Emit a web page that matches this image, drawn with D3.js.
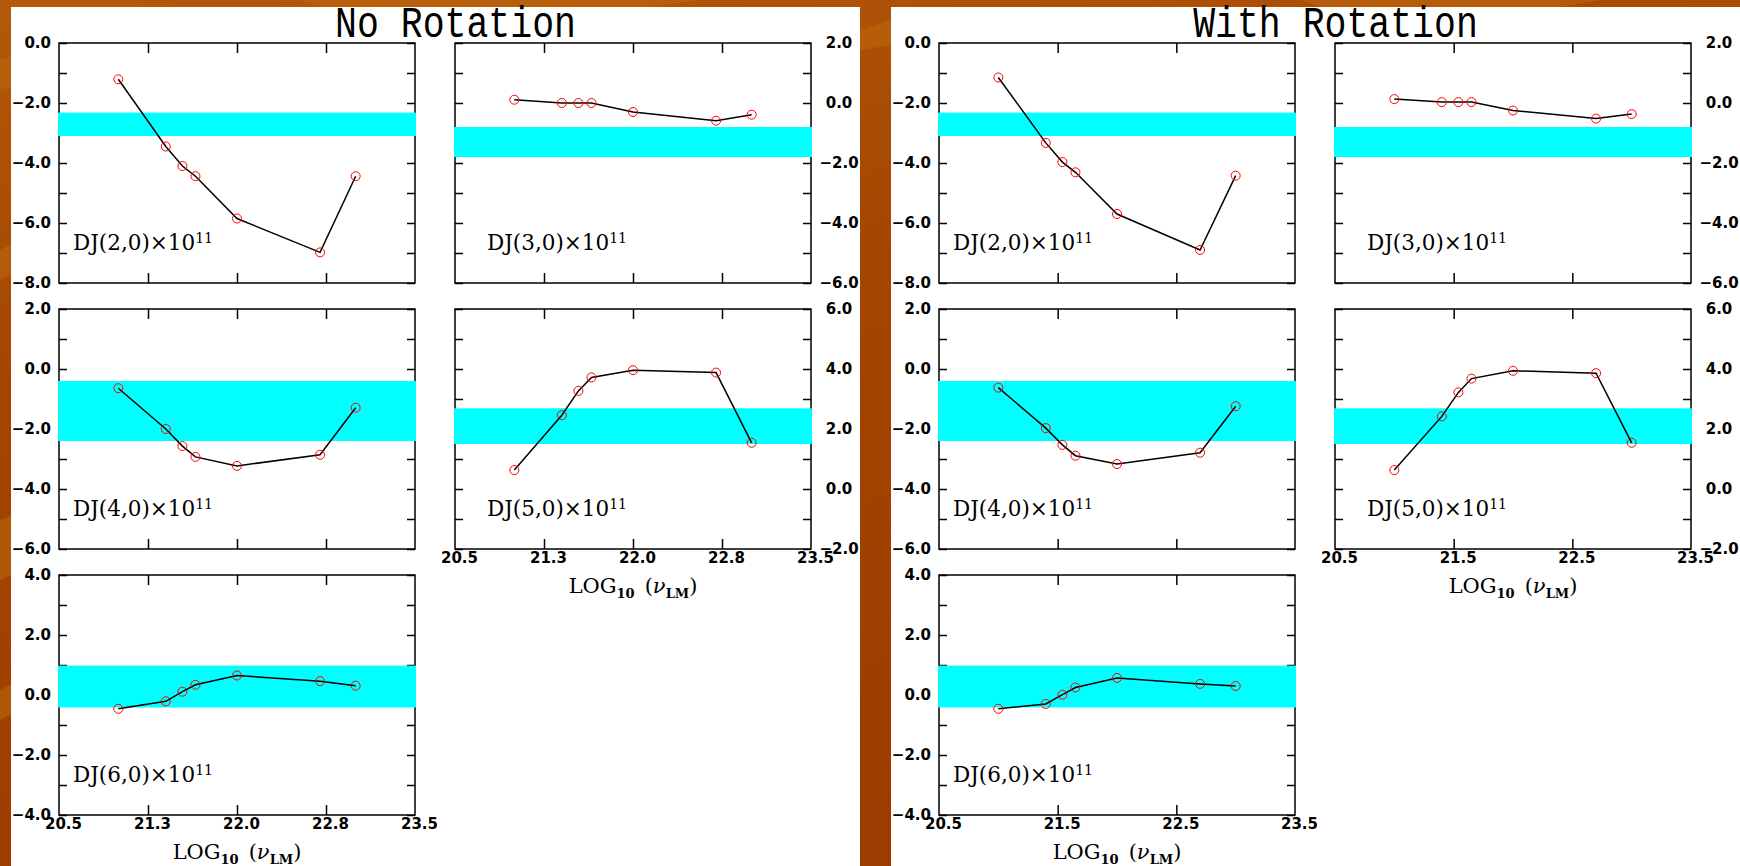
<!DOCTYPE html>
<html>
<head>
<meta charset="utf-8">
<script src="https://cdn.jsdelivr.net/npm/d3@7"></script>
<style>
  body { margin: 0; background: #a44400; }
  svg { display: block; }
</style>
</head>
<body>
<div id="chart"></div>
<script>
// log10(nu_LM), same abscissae in every panel
var nuLog = [21.0, 21.4, 21.54, 21.65, 22.0, 22.7, 23.0];

// DJ(n,0) x 10^11, no rotation
var dj2NoRot = [-1.21, -3.45, -4.10, -4.44, -5.85, -6.98, -4.44];
var dj3NoRot = [0.11, 0.0, 0.0, 0.0, -0.30, -0.59, -0.39];
var dj4NoRot = [-0.64, -2.00, -2.57, -2.93, -3.23, -2.86, -1.29];
var dj5NoRot = [0.63, 2.46, 3.27, 3.72, 3.96, 3.88, 1.54];
var dj6NoRot = [-0.46, -0.21, 0.11, 0.34, 0.65, 0.46, 0.31];

// DJ(n,0) x 10^11, with rotation
var dj2Rot = [-1.15, -3.33, -3.97, -4.31, -5.70, -6.90, -4.42];
var dj3Rot = [0.13, 0.03, 0.03, 0.03, -0.25, -0.52, -0.37];
var dj4Rot = [-0.62, -1.97, -2.53, -2.89, -3.17, -2.79, -1.24];
var dj5Rot = [0.63, 2.42, 3.22, 3.68, 3.94, 3.86, 1.54];
var dj6Rot = [-0.46, -0.30, 0.01, 0.25, 0.57, 0.37, 0.30];

// observed ranges (cyan bands), [low, high]
var band2 = [-3.10, -2.32];
var band3 = [-1.80, -0.80];
var band4 = [-2.40, -0.40];
var band5 = [1.50, 2.69];
var band6 = [-0.415, 0.98];

// y ranges
var yDom2 = [-8, 0];
var yDom3 = [-6, 2];
var yDom4 = [-6, 2];
var yDom5 = [-2, 6];
var yDom6 = [-4, 4];

var xDomain = [20.5, 23.5];
var xTicksNoRot = [21.25, 22.0, 22.75];
var xTicksRot = [21.5, 22.5];
var xLabelValsNoRot = [20.5, 21.25, 22.0, 22.75, 23.5];
var xLabelsNoRot = ["20.5", "21.3", "22.0", "22.8", "23.5"];
var xLabelValsRot = [20.5, 21.5, 22.5, 23.5];
var xLabelsRot = ["20.5", "21.5", "22.5", "23.5"];

var panelTitles = ["No Rotation", "With Rotation"];

var W = 1740, H = 866;
var plotW = 356, plotH = 240;
var colX = [59, 455];
var rowY = [43, 309, 575];
var panelShift = 880;

var svg = d3.select("#chart").append("svg")
    .attr("width", W)
    .attr("height", H);

// background
var defs = svg.append("defs");
var grad = defs.append("linearGradient")
    .attr("id", "bg").attr("x1", 0).attr("y1", 0).attr("x2", 0.3).attr("y2", 1);
grad.append("stop").attr("offset", "0%").attr("stop-color", "#b4580a");
grad.append("stop").attr("offset", "40%").attr("stop-color", "#a44600");
grad.append("stop").attr("offset", "100%").attr("stop-color", "#9c3c00");
svg.append("rect").attr("width", W).attr("height", H).attr("fill", "url(#bg)");

var streaks = [
    "M0,60 L60,40 L60,70 L0,90 Z",
    "M0,250 L40,230 L40,260 L0,280 Z",
    "M860,30 L891,20 L891,45 L860,50 Z",
    "M0,520 L40,505 L40,560 L0,580 Z",
    "M0,690 L40,670 L40,700 L0,720 Z",
    "M300,0 L700,0 L650,7 L320,7 Z",
    "M1300,0 L1600,0 L1560,7 L1320,7 Z"
];
svg.selectAll(".streak").data(streaks).enter().append("path")
    .attr("class", "streak")
    .attr("d", function(d) { return d; })
    .attr("fill", "#c0680e")
    .attr("opacity", 0.55);

// white sheets
svg.selectAll(".sheet").data([0, 1]).enter().append("rect")
    .attr("class", "sheet")
    .attr("x", function(d) { return 11 + d * panelShift; })
    .attr("y", 7)
    .attr("width", 849)
    .attr("height", H - 7)
    .attr("fill", "#fff");

var fmt = d3.format(".1f");
var tickFont = "DejaVu Sans, sans-serif";
var serif = "DejaVu Serif, serif";

var cells = [
    {panel: 0, col: 0, row: 0, n: 2, vals: dj2NoRot, band: band2, dom: yDom2},
    {panel: 0, col: 1, row: 0, n: 3, vals: dj3NoRot, band: band3, dom: yDom3},
    {panel: 0, col: 0, row: 1, n: 4, vals: dj4NoRot, band: band4, dom: yDom4},
    {panel: 0, col: 1, row: 1, n: 5, vals: dj5NoRot, band: band5, dom: yDom5, xaxis: true},
    {panel: 0, col: 0, row: 2, n: 6, vals: dj6NoRot, band: band6, dom: yDom6, xaxis: true},
    {panel: 1, col: 0, row: 0, n: 2, vals: dj2Rot, band: band2, dom: yDom2},
    {panel: 1, col: 1, row: 0, n: 3, vals: dj3Rot, band: band3, dom: yDom3},
    {panel: 1, col: 0, row: 1, n: 4, vals: dj4Rot, band: band4, dom: yDom4},
    {panel: 1, col: 1, row: 1, n: 5, vals: dj5Rot, band: band5, dom: yDom5, xaxis: true},
    {panel: 1, col: 0, row: 2, n: 6, vals: dj6Rot, band: band6, dom: yDom6, xaxis: true}
];

function drawCell(c) {
    var left = colX[c.col] + c.panel * panelShift;
    var top = rowY[c.row];
    var g = svg.append("g").attr("transform", "translate(" + left + "," + top + ")");

    var x = d3.scaleLinear().domain(xDomain).range([0, plotW]);
    var y = d3.scaleLinear().domain(c.dom).range([plotH, 0]);

    var xt = c.panel === 0 ? xTicksNoRot : xTicksRot;
    var yt = d3.range(c.dom[0], c.dom[1] + 0.5, 1);

    // frame
    g.append("rect")
        .attr("width", plotW).attr("height", plotH)
        .attr("fill", "none").attr("stroke", "#000").attr("stroke-width", 1.5);

    // inward ticks on all four sides
    var labelSide = c.col === 0 ? "left" : "right";
    var yLab = (labelSide === "left" ? d3.axisLeft(y) : d3.axisRight(y))
        .tickValues(yt).tickSizeInner(-8).tickSizeOuter(0).tickPadding(8)
        .tickFormat(function(d) { return Math.abs(d % 2) < 1e-9 ? fmt(d) : ""; });
    var yOther = (labelSide === "left" ? d3.axisRight(y) : d3.axisLeft(y))
        .tickValues(yt).tickSizeInner(-8).tickSizeOuter(0).tickFormat("");

    var ga = g.append("g")
        .attr("transform", labelSide === "left" ? null : "translate(" + plotW + ",0)")
        .call(yLab);
    g.append("g")
        .attr("transform", labelSide === "left" ? "translate(" + plotW + ",0)" : null)
        .call(yOther);
    if (labelSide === "right") {
        ga.selectAll("text").attr("x", 28).attr("text-anchor", "middle");
    }

    var xTop = d3.axisTop(x).tickValues(xt).tickSizeInner(-10).tickSizeOuter(0).tickFormat("");
    g.append("g").call(xTop);
    var xBot = d3.axisBottom(x).tickValues(xt).tickSizeInner(-10).tickSizeOuter(0).tickFormat("");
    g.append("g").attr("transform", "translate(0," + plotH + ")").call(xBot);

    if (c.xaxis) {
        var lv = c.panel === 0 ? xLabelValsNoRot : xLabelValsRot;
        var ll = c.panel === 0 ? xLabelsNoRot : xLabelsRot;
        var xLab = d3.axisBottom(x).tickValues(lv).tickSize(0).tickPadding(3)
            .tickFormat(function(d, i) { return ll[i]; });
        var gx = g.append("g").attr("transform", "translate(0," + plotH + ")").call(xLab);
        gx.selectAll("text").attr("dx", 4);
        gx.attr("font-family", tickFont).attr("font-size", 15).attr("font-weight", "bold");
        gx.select(".domain").remove();

        var t = g.append("text")
            .attr("x", plotW / 2)
            .attr("y", plotH + 44)
            .attr("text-anchor", "middle")
            .attr("font-family", serif)
            .attr("font-size", 21)
            .attr("fill", "#000");
        t.append("tspan").text("LOG");
        t.append("tspan").attr("dy", 5).attr("font-size", 13).attr("font-weight", "bold").text("10");
        t.append("tspan").attr("dy", -5).attr("dx", 10).text("(");
        t.append("tspan").attr("font-style", "italic").text("\u03bd");
        t.append("tspan").attr("dy", 5).attr("font-size", 13).attr("font-weight", "bold").text("LM");
        t.append("tspan").attr("dy", -5).text(")");
    }

    g.selectAll(".domain").remove();
    g.selectAll(".tick line").attr("stroke", "#000").attr("stroke-width", 1.5);
    ga.attr("font-family", tickFont).attr("font-size", 15).attr("font-weight", "bold");
    g.selectAll(".tick text").attr("fill", "#000");

    // observed band
    g.append("rect")
        .attr("x", -1)
        .attr("width", plotW + 2)
        .attr("y", y(c.band[1]))
        .attr("height", y(c.band[0]) - y(c.band[1]))
        .attr("fill", "#00ffff");

    var pts = nuLog.map(function(v, i) { return {x: v, y: c.vals[i]}; });
    var line = d3.line()
        .x(function(d) { return x(d.x); })
        .y(function(d) { return y(d.y); });
    g.append("path")
        .datum(pts)
        .attr("d", line)
        .attr("fill", "none")
        .attr("stroke", "#000")
        .attr("stroke-width", 1.5);
    g.selectAll(".pt").data(pts).enter().append("circle")
        .attr("class", "pt")
        .attr("cx", function(d) { return x(d.x); })
        .attr("cy", function(d) { return y(d.y); })
        .attr("r", 4.5)
        .attr("fill", "none")
        .attr("stroke", "#ff0000")
        .attr("stroke-width", 1);

    var lab = g.append("text")
        .attr("x", c.col === 0 ? 14 : 32)
        .attr("y", 207)
        .attr("font-family", serif)
        .attr("font-size", 21.5)
        .attr("fill", "#000");
    lab.append("tspan").text("DJ(" + c.n + ",0)\u00d710");
    lab.append("tspan").attr("dy", -7).attr("font-size", 14).text("11");
}

cells.forEach(drawCell);

// panel titles
svg.selectAll(".ptitle").data(panelTitles).enter().append("text")
    .attr("class", "ptitle")
    .attr("text-anchor", "middle")
    .attr("transform", function(d, i) {
        return "translate(" + (colX[1] + 0.5 + i * panelShift) + ",37) scale(1,1.2)";
    })
    .attr("font-family", "Liberation Mono, Courier New, monospace")
    .attr("font-size", 36.5)
    .attr("fill", "#000")
    .text(function(d) { return d; });
</script>
</body>
</html>
